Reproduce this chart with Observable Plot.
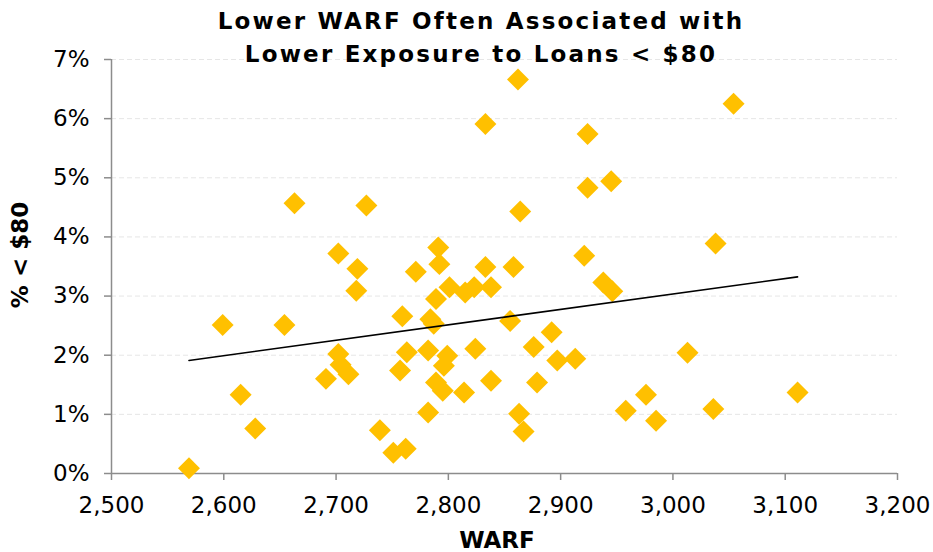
<!DOCTYPE html>
<html>
<head>
<meta charset="utf-8">
<script src="https://cdn.jsdelivr.net/npm/d3@7"></script>
<script src="https://cdn.jsdelivr.net/npm/@observablehq/plot@0.6"></script>
<style>
  body { margin: 0; background: #fff; }
  #chart { width: 933px; height: 552px; }
</style>
</head>
<body>
<div id="chart"></div>
<script>
// Weighted average rating factor of each portfolio
const warf = [2569, 2599, 2615, 2628, 2654, 2663, 2691, 2702, 2702, 2704,
              2711, 2718, 2719, 2727, 2739, 2751, 2762, 2757, 2763, 2759,
              2771, 2782, 2784, 2787, 2782, 2789, 2795, 2796, 2799, 2789,
              2791, 2792, 2801, 2814, 2815, 2823, 2824, 2833, 2833, 2838,
              2838, 2855, 2858, 2862, 2864, 2863, 2867, 2876, 2879, 2892,
              2897, 2913, 2921, 2924, 2924, 2938, 2946, 2945, 2958, 2976,
              2985, 3013, 3036, 3038, 3054, 3111];
// Share of loans priced below $80, in percent
const pctUnder80 = [0.09, 2.51, 1.33, 0.76, 2.51, 4.57, 1.60, 3.72, 2.02, 1.84,
                    1.68, 3.09, 3.46, 4.53, 0.73, 0.35, 0.42, 1.74, 2.05, 2.66,
                    3.41, 2.08, 2.61, 2.53, 1.03, 1.54, 1.40, 1.82, 1.99, 2.95,
                    3.82, 3.54, 3.15, 1.37, 3.06, 3.15, 2.11, 5.91, 3.49, 3.15,
                    1.57, 2.58, 3.49, 6.66, 4.43, 1.01, 0.71, 2.14, 1.54, 2.39,
                    1.91, 1.94, 3.68, 5.74, 4.83, 3.23, 3.08, 4.94, 1.06, 1.33,
                    0.89, 2.04, 1.09, 3.89, 6.25, 1.37];

const xTicks = [2500, 2600, 2700, 2800, 2900, 3000, 3100, 3200];
const yTicks = [0, 1, 2, 3, 4, 5, 6, 7];
const titleLines = ["Lower WARF Often Associated with", "Lower Exposure to Loans < $80"];
const xLabel = "WARF";
const yLabel = "% < $80";

const data = warf.map((w, i) => ({warf: w, pct: pctUnder80[i]}));

const axisGray = "#8c8c8c";
const font = "'DejaVu Sans', Verdana, sans-serif";

const plot = Plot.plot({
  width: 933,
  height: 552,
  marginLeft: 111,
  marginRight: 36,
  marginTop: 59,
  marginBottom: 79,
  style: {fontFamily: font, fontSize: "23px", background: "#fff", color: "#000"},
  x: {domain: [2500, 3200]},
  y: {domain: [0, 7]},
  marks: [
    Plot.gridY(yTicks.filter(t => t > 0), {stroke: "#e6e6e6", strokeOpacity: 1, strokeDasharray: "5,3"}),
    Plot.ruleY([0], {stroke: axisGray, strokeWidth: 1.5}),
    Plot.ruleX([2500], {stroke: axisGray, strokeWidth: 1.5}),
    Plot.axisX(xTicks, {tickSize: 7, tickPadding: 16, tickFormat: d3.format(","), stroke: axisGray, strokeWidth: 1.5, fill: "#000", label: null}),
    Plot.axisY(yTicks, {tickSize: 7, tickPadding: 15, tickFormat: d => d + "%", stroke: axisGray, strokeWidth: 1.5, fill: "#000", label: null}),
    Plot.dot(data, {x: "warf", y: "pct", symbol: "diamond2", r: 9.9, fill: "#FFC000", stroke: null}),
    Plot.linearRegressionY(data, {x: "warf", y: "pct", stroke: "#000", strokeWidth: 1.6, ci: 0})
  ]
});

const svg = d3.select(plot);
const title = svg.append("g")
  .attr("font-family", font)
  .attr("font-weight", "bold")
  .attr("font-size", 23)
  .attr("letter-spacing", "2.2px")
  .attr("text-anchor", "middle")
  .attr("fill", "#000");
title.append("text").attr("x", 481).attr("y", 29).text(titleLines[0]);
title.append("text").attr("x", 481).attr("y", 62).text(titleLines[1]);

svg.append("text")
  .attr("x", 497).attr("y", 548)
  .attr("text-anchor", "middle")
  .attr("font-family", font).attr("font-weight", "bold").attr("font-size", 23)
  .text(xLabel);

svg.append("text")
  .attr("transform", "translate(28,255) rotate(-90)")
  .attr("text-anchor", "middle")
  .attr("font-family", font).attr("font-weight", "bold").attr("font-size", 23)
  .text(yLabel);

document.getElementById("chart").appendChild(plot);
</script>
</body>
</html>
